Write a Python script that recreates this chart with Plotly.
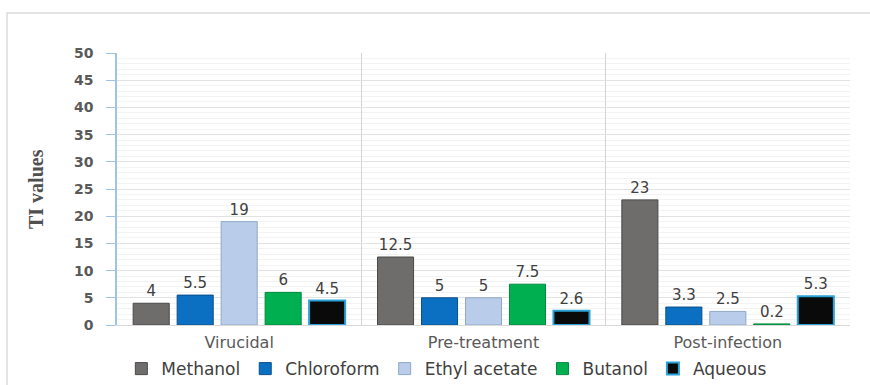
import plotly.graph_objects as go

categories = ["Virucidal", "Pre-treatment", "Post-infection"]
series_names = ["Methanol", "Chloroform", "Ethyl acetate", "Butanol", "Aqueous"]
methanol = [4, 12.5, 23]
chloroform = [5.5, 5, 3.3]
ethyl_acetate = [19, 5, 2.5]
butanol = [6, 7.5, 0.2]
aqueous = [4.5, 2.6, 5.3]
y_ticks = [0, 5, 10, 15, 20, 25, 30, 35, 40, 45, 50]

values = [methanol, chloroform, ethyl_acetate, butanol, aqueous]
fills = ["#6f6c6c", "#0b70c2", "#b9cdea", "#00b050", "#0a0a0a"]
borders = ["#4a4848", "#0a4f8c", "#8ea7c9", "#008a3e", "#2ba3d8"]
bwidths = [1, 1, 1, 1, 2]

fig = go.Figure()
for name, vals, fc, bc, bw in zip(series_names, values, fills, borders, bwidths):
    fig.add_trace(go.Bar(
        name=name, x=categories, y=vals,
        marker=dict(color=fc, line=dict(color=bc, width=bw)),
        text=[f"{v:g}" for v in vals], textposition="outside",
        textfont=dict(family="DejaVu Sans", size=15, color="#404040"),
        constraintext="none", cliponaxis=False,
    ))

fig.update_layout(
    width=870, height=385,
    margin=dict(l=117, r=20, t=53, b=60, autoexpand=False),
    paper_bgcolor="white", plot_bgcolor="white",
    barmode="group", bargap=0.1, bargroupgap=0.18,
    showlegend=True,
    legend=dict(orientation="h", x=0.45, xanchor="center", y=-0.162, yanchor="middle",
                font=dict(family="DejaVu Sans", size=17, color="#404040"),
                itemwidth=30, bgcolor="rgba(0,0,0,0)"),
    xaxis=dict(
        type="category", tickson="boundaries", showgrid=True, gridcolor="#d4d4d4",
        gridwidth=1, ticks="", showline=True, linecolor="#d9d9d9", mirror=False,
        tickfont=dict(family="DejaVu Sans", size=16, color="#595959"),
        ticklabelstandoff=3,
    ),
    yaxis=dict(
        range=[0, 50], tickvals=y_ticks, showgrid=True, gridcolor="#e2e2e2",
        minor=dict(dtick=1, showgrid=True, gridcolor="#f3f3f3"),
        showline=True, linecolor="#9dc3e6", linewidth=1.5,
        ticks="outside", ticklen=9, tickcolor="#9dc3e6",
        tickfont=dict(family="DejaVu Sans", size=14, color="#595959", weight="bold"),
        ticklabelstandoff=10, zeroline=False,
    ),
    annotations=[dict(
        text="TI values", textangle=-90, xref="paper", yref="paper",
        x=-0.1105, y=0.5, xanchor="center", yanchor="middle", showarrow=False,
        font=dict(family="Liberation Serif", size=20, color="#505050", weight="bold"),
    )],
    shapes=[dict(type="rect", xref="paper", yref="paper", x0=-0.150, x1=1.2,
                 y0=-0.4, y1=1.147, line=dict(color="#dcdcdc", width=1.5),
                 fillcolor="rgba(0,0,0,0)", layer="below")],
)

fig.write_html("out.html")
